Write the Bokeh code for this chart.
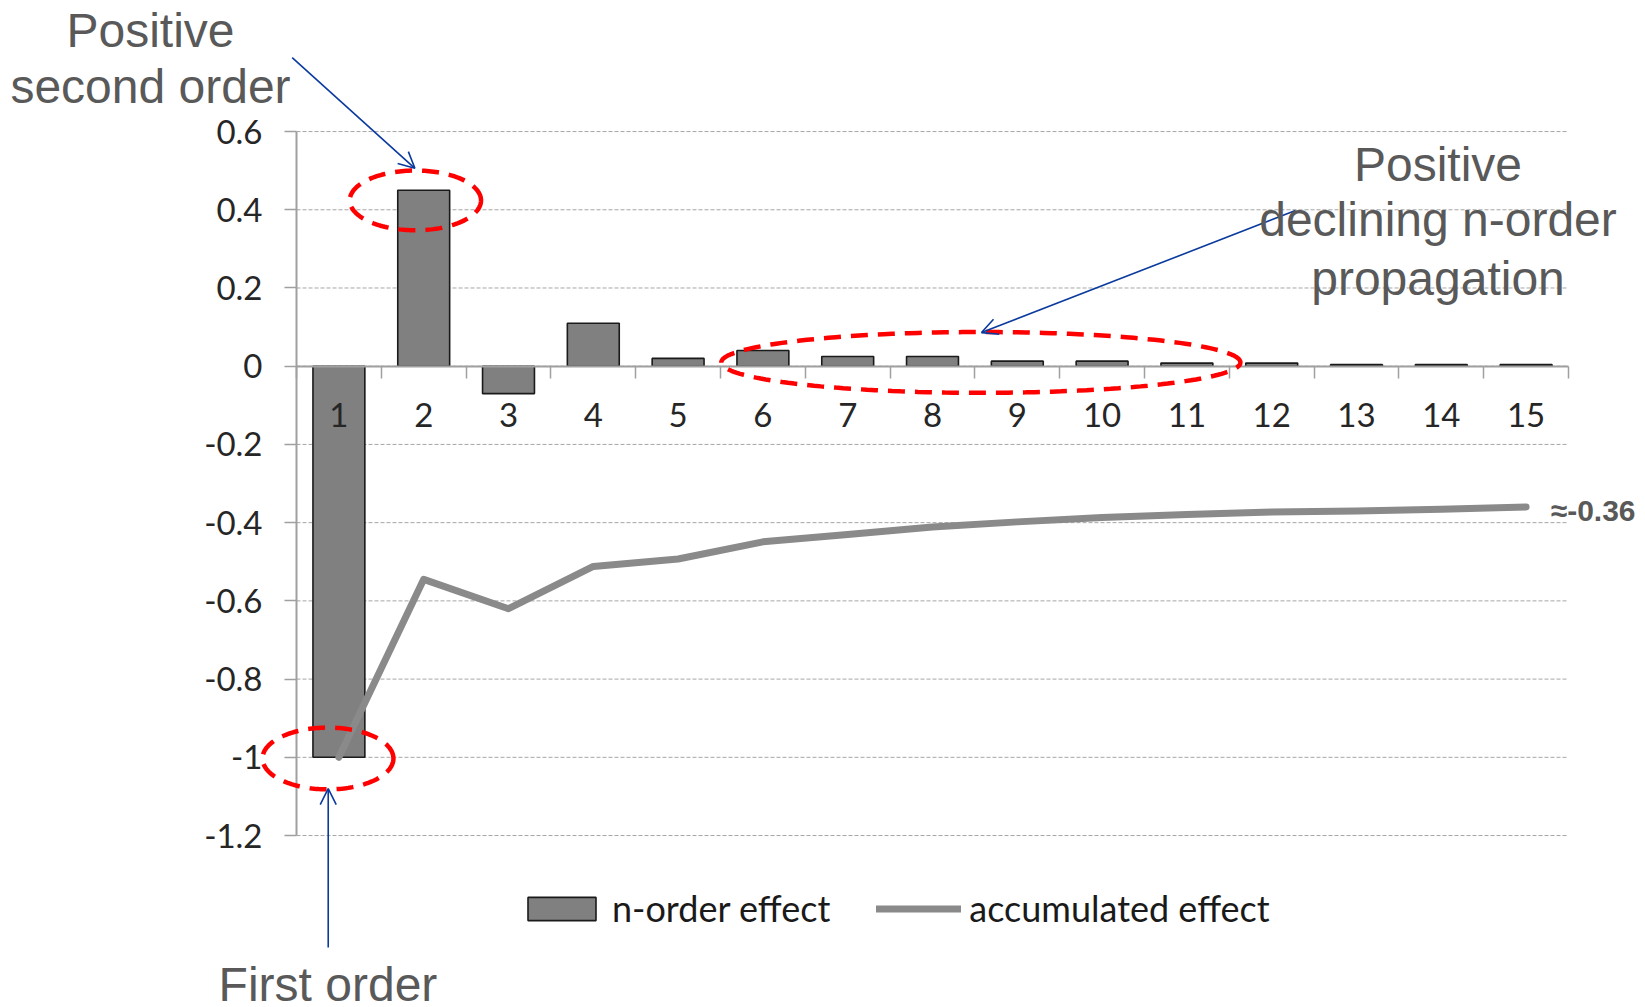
import numpy as np
from bokeh.plotting import figure
from bokeh.models import (FixedTicker, Range1d, Arrow, OpenHead, Label,
                          PolyAnnotation, Legend, LegendItem)
from bokeh.embed import file_html
from bokeh.resources import INLINE

# ---- data -------------------------------------------------------------
orders = list(range(1, 16))
n_order_effect = [-1.0, 0.45, -0.07, 0.11, 0.02, 0.04, 0.025, 0.025,
                  0.013, 0.013, 0.008, 0.008, 0.004, 0.004, 0.004]
accumulated_effect = [-1.0, -0.545, -0.62, -0.512, -0.493, -0.449, -0.43,
                      -0.411, -0.398, -0.387, -0.379, -0.373, -0.37,
                      -0.366, -0.36]
y_ticks = [-1.2, -1.0, -0.8, -0.6, -0.4, -0.2, 0.0, 0.2, 0.4, 0.6]
y_tick_labels = ["-1.2", "-1", "-0.8", "-0.6", "-0.4", "-0.2", "0",
                 "0.2", "0.4", "0.6"]
category_edges = [k + 0.5 for k in range(0, 16)]

TICK_FONT = "Lato"
NOTE_FONT = "Liberation Sans"
NOTE_COLOR = "#595959"
ARROW_BLUE = "#0a3a9e"
AXIS_GRAY = "#a0a0a0"

# The plotting frame fills the whole canvas so that the call-out notes
# around the chart are not clipped; the axes sit at fixed positions and
# are bounded to the chart's own extent.
X_LO, X_HI = 0.5, 15.5
Y_LO, Y_HI = -1.2, 0.6
p = figure(width=1645, height=1007,
           x_range=Range1d(-2.9906, 16.408), y_range=Range1d(-1.6397, 0.9351),
           output_backend="svg", toolbar_location=None,
           min_border_left=0, min_border_right=0,
           min_border_top=0, min_border_bottom=0)
p.outline_line_color = None
p.background_fill_color = "white"
p.border_fill_color = "white"
p.xgrid.visible = False
p.ygrid.visible = False

# ---- horizontal dashed grid --------------------------------------------
p.segment(x0=[X_LO] * len(y_ticks), x1=[X_HI] * len(y_ticks),
          y0=y_ticks, y1=y_ticks, line_color="#a6a6a6", line_width=1,
          line_dash="4 2")

# ---- marks ------------------------------------------------------------
bars = p.vbar(x=orders, top=n_order_effect, bottom=0, width=0.612,
              fill_color="#808080", line_color="#1a1a1a", line_width=1.6)
acc_line = p.line(x=orders, y=accumulated_effect, line_color="#8a8a8a",
                  line_width=7, line_join="round", line_cap="round")

# ---- axes -------------------------------------------------------------
yax = p.yaxis[0]
yax.fixed_location = X_LO
yax.bounds = (Y_LO, Y_HI)
yax.ticker = FixedTicker(ticks=y_ticks)
yax.major_label_overrides = dict(zip(y_ticks, y_tick_labels))
yax.axis_line_color = AXIS_GRAY
yax.axis_line_width = 2
yax.major_tick_line_color = AXIS_GRAY
yax.major_tick_line_width = 1.5
yax.major_tick_in = 0
yax.major_tick_out = 12
yax.minor_tick_line_color = None
yax.major_label_standoff = 22
yax.major_label_text_font = TICK_FONT
yax.major_label_text_font_size = "33px"
yax.major_label_text_color = "#262626"

xax = p.xaxis[0]
xax.fixed_location = 0
xax.bounds = (X_LO, X_HI)
xax.ticker = FixedTicker(ticks=orders, minor_ticks=category_edges)
xax.axis_line_color = AXIS_GRAY
xax.axis_line_width = 2
xax.major_tick_line_color = None
xax.major_tick_in = 0
xax.major_tick_out = 0
xax.minor_tick_line_color = AXIS_GRAY
xax.minor_tick_line_width = 1.5
xax.minor_tick_in = 0
xax.minor_tick_out = 12
xax.major_label_standoff = 25
xax.major_label_text_font = TICK_FONT
xax.major_label_text_font_size = "33px"
xax.major_label_text_color = "#262626"

# ---- value label at the end of the accumulated line --------------------
p.add_layout(Label(x=orders[-1] + 0.29, y=accumulated_effect[-1] - 0.008,
                   text=f"\u2248{accumulated_effect[-1]:.2f}",
                   text_font=NOTE_FONT, text_font_size="30px",
                   text_font_style="bold", text_color=NOTE_COLOR,
                   text_align="left", text_baseline="middle"))

# ---- dashed red rings -------------------------------------------------
theta = np.linspace(0, 2 * np.pi, 181)


def ring(cx, cy, rx, ry):
    return PolyAnnotation(xs=list(cx + rx * np.cos(theta)),
                          ys=list(cy + ry * np.sin(theta)),
                          fill_alpha=0, line_color="#ff0000", line_alpha=1,
                          line_width=4.5, line_dash="17 10")


p.add_layout(ring(1.902, 0.424, 0.774, 0.0764))
p.add_layout(ring(0.871, -1.003, 0.772, 0.079))
p.add_layout(ring(8.57, 0.0097, 3.061, 0.0777))

# ---- blue pointer arrows ----------------------------------------------
for xs, ys, xe, ye in [(0.449, 0.789, 1.896, 0.506),
                       (12.28, 0.398, 8.578, 0.086),
                       (0.874, -1.486, 0.874, -1.080)]:
    p.add_layout(Arrow(x_start=xs, y_start=ys, x_end=xe, y_end=ye,
                       line_color=ARROW_BLUE, line_width=1.6,
                       end=OpenHead(size=16, line_color=ARROW_BLUE,
                                    line_width=1.6)))

# ---- callout texts ----------------------------------------------------
notes = [("Positive", -1.222, 0.859), ("second order", -1.222, 0.716),
         ("Positive", 13.961, 0.516), ("declining n-order", 13.961, 0.375),
         ("propagation", 13.961, 0.224), ("First order", 0.871, -1.581)]
for txt, x, y in notes:
    p.add_layout(Label(x=x, y=y, text=txt, text_font=NOTE_FONT,
                       text_font_size="48px", text_color=NOTE_COLOR,
                       text_align="center", text_baseline="alphabetic"))

# ---- legend -----------------------------------------------------------
legend = Legend(items=[LegendItem(label="n-order effect", renderers=[bars]),
                       LegendItem(label="accumulated effect",
                                  renderers=[acc_line])],
                orientation="horizontal", location=(519, 77),
                glyph_width=85, glyph_height=29, label_standoff=8,
                spacing=46, padding=0, margin=0,
                label_text_font=TICK_FONT, label_text_font_size="36px",
                label_text_color="#1a1a1a",
                border_line_color=None, background_fill_alpha=0)
p.add_layout(legend)

open("out.html", "w").write(file_html(p, INLINE))
